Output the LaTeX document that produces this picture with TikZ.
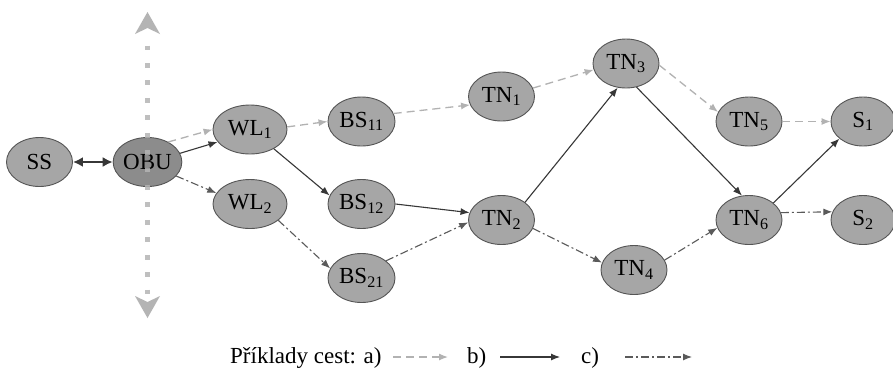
\documentclass[tikz,border=0pt]{standalone}
\usepackage{fontspec}
\setmainfont{Liberation Serif}
\usetikzlibrary{shapes.geometric,arrows.meta}
\definecolor{nodefill}{RGB}{166,166,166}
\definecolor{obufill}{RGB}{140,140,140}
\definecolor{nodeborder}{RGB}{85,85,85}
\definecolor{lightpath}{RGB}{178,178,178}
\definecolor{darkpath}{RGB}{55,55,55}
\definecolor{midpath}{RGB}{90,90,90}
\definecolor{dotcol}{RGB}{180,180,180}
\tikzset{
  nd/.style={ellipse, draw=nodeborder, fill=nodefill, line width=0.9pt,
    minimum width=66pt, minimum height=49pt, inner sep=0pt,
    font=\fontsize{23}{25}\selectfont},
  wide/.style={minimum width=74pt},
  patha/.style={draw=lightpath, line width=1.3pt, dash pattern=on 8pt off 5pt,
    -{Latex[length=9pt,width=7pt]}},
  pathb/.style={draw=darkpath, line width=1.1pt, -{Latex[length=9pt,width=7pt]}},
  pathc/.style={draw=midpath, line width=1.1pt, dash pattern=on 8pt off 3pt on 2pt off 3pt,
    -{Latex[length=9pt,width=7pt]}},
  legtext/.style={anchor=base west, inner sep=0pt, font=\fontsize{23}{25}\selectfont},
}
\begin{document}
\begin{tikzpicture}[x=1pt,y=-1pt]
\useasboundingbox[fill=white] (0,0) rectangle (893,368);
% nodes
\node[nd] (SS) at (39.5,162) {SS};
\node[nd, fill=obufill] (OBU) at (147.5,162) {OBU};
\node[nd, wide] (WL1) at (250,129.5) {WL\textsubscript{1}};
\node[nd, wide] (WL2) at (250,204) {WL\textsubscript{2}};
\node[nd, minimum width=67pt] (BS11) at (361.5,121.5) {BS\textsubscript{11}};
\node[nd, minimum width=67pt] (BS12) at (361.5,204) {BS\textsubscript{12}};
\node[nd, minimum width=67pt] (BS21) at (361.5,278) {BS\textsubscript{21}};
\node[nd] (TN1) at (501.5,96.5) {TN\textsubscript{1}};
\node[nd] (TN2) at (501.5,220) {TN\textsubscript{2}};
\node[nd] (TN3) at (626,63.5) {TN\textsubscript{3}};
\node[nd] (TN4) at (634,270) {TN\textsubscript{4}};
\node[nd] (TN5) at (749,121.5) {TN\textsubscript{5}};
\node[nd] (TN6) at (749,220) {TN\textsubscript{6}};
\node[nd, minimum width=64pt] (S1) at (863,121.5) {S\textsubscript{1}};
\node[nd, minimum width=64pt] (S2) at (863,220) {S\textsubscript{2}};
% SS <-> OBU
\draw[darkpath, line width=2.4pt, {Latex[length=10pt,width=10pt]}-{Latex[length=10pt,width=10pt]}] (SS) -- (OBU);
% path a
\draw[patha] (OBU.44) -- (WL1.180);
\draw[patha] (WL1.4) -- (BS11.180);
\draw[patha] (BS11.14) -- (TN1.195);
\draw[patha] (TN1.15) -- (TN3.191);
\draw[patha] (TN3.-3) -- (TN5.163);
\draw[patha] (TN5.0) -- (S1.180);
% path b
\draw[pathb] (OBU.15) -- (WL1.201);
\draw[pathb] (WL1.-39) -- (BS12.165);
\draw[pathb] (BS12.0) -- (TN2.167);
\draw[pathb] (TN2.37) -- (TN3.251);
\draw[pathb] (TN3.-66) -- (TN6.106);
\draw[pathb] (TN6.35) -- (S1.216);
% path c
\draw[pathc] (OBU.-26) -- (WL2.162);
\draw[pathc] (WL2.-30) -- (BS21.163);
\draw[pathc] (BS21.35) -- (TN2.184);
\draw[pathc] (TN2.-15) -- (TN4.167);
\draw[pathc] (TN4.18) -- (TN6.194);
\draw[pathc] (TN6.13) -- (S2.165);
% vertical dotted double arrow
\draw[dotcol, opacity=0.85, line width=4.8pt, dash pattern=on 4.8pt off 12.63pt] (147.5,45.6) -- (147.5,294.4);
\fill[dotcol] (147.5,12) -- (160,34) -- (147.5,28) -- (135,34) -- cycle;
\fill[dotcol] (147.5,318) -- (160,296) -- (147.5,302) -- (135,296) -- cycle;
% legend
\node[legtext] (leg) at (230,363) {Příklady cest: a)};
\node[legtext] (legb) at (467,363) {b)};
\node[legtext] (legc) at (581,363) {c)};
\coordinate (a1) at (393,357); \coordinate (a2) at (448,357);
\coordinate (b1) at (500,357); \coordinate (b2) at (560,357);
\coordinate (c1) at (625,357); \coordinate (c2) at (692,357);
\draw[patha] (a1) -- (a2);
\draw[pathb] (b1) -- (b2);
\draw[pathc] (c1) -- (c2);
\end{tikzpicture}
\end{document}
